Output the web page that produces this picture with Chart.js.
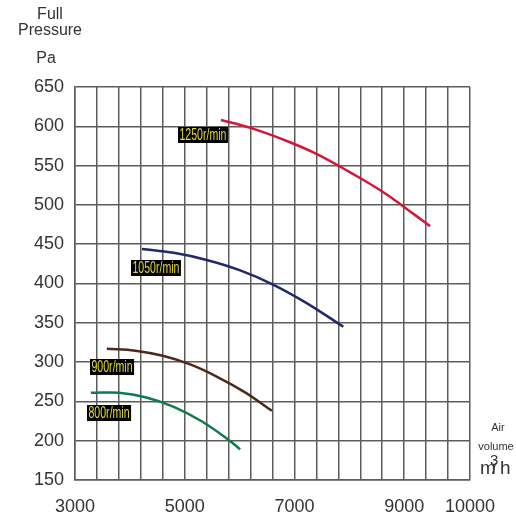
<!DOCTYPE html>
<html>
<head>
<meta charset="utf-8">
<script src="https://cdn.jsdelivr.net/npm/chart.js@4/dist/chart.umd.min.js"></script>
<style>
  html, body { margin: 0; padding: 0; background: #fff; }
  #wrap { width: 516px; height: 517px; position: relative; }
</style>
</head>
<body>
<div id="wrap"><canvas id="c" width="516" height="517"></canvas></div>
<script>
// ---- data (air volume m3/h, full pressure Pa) ----
const speedLabels = ['1250r/min', '1050r/min', '900r/min', '800r/min'];
const flow1250 = [5660, 6200, 6800, 7400, 8000, 8600, 9200, 9470];
const pres1250 = [608, 598, 583, 565, 542, 517, 487, 473];
const flow1050 = [4220, 4800, 5400, 6000, 6600, 7200, 7890];
const pres1050 = [444, 439, 430, 417, 399, 376, 345];
const flow900 = [3580, 4100, 4600, 5100, 5600, 6100, 6590];
const pres900 = [317, 314.5, 308, 297, 281, 261.5, 238];
const flow800 = [3290, 3800, 4300, 4800, 5300, 5800, 6010];
const pres800 = [261, 261, 255, 243, 225, 201, 189];
const yTicks = [150, 200, 250, 300, 350, 400, 450, 500, 550, 600, 650];
const xTickLabels = ['3000', '5000', '7000', '9000', '10000'];
const xTickValues = [3000, 5000, 7000, 9000, 10200];

const pts = (xs, ys) => xs.map((x, i) => ({ x, y: ys[i] }));
const colors = ['#d2163a', '#1f2a6b', '#4b2a1c', '#0f7a4c'];
const seriesData = [pts(flow1250, pres1250), pts(flow1050, pres1050), pts(flow900, pres900), pts(flow800, pres800)];
// label box offsets relative to first point of each curve (pixels)
const labelOffsets = [[-43, 7], [-11, 11], [-17, 10], [-4, 12]];

const labelPlugin = {
  id: 'speedLabels',
  afterDatasetsDraw(chart) {
    const ctx = chart.ctx;
    chart.data.datasets.forEach((ds, i) => {
      const meta = chart.getDatasetMeta(i);
      const p0 = meta.data[0];
      const left = Math.round(p0.x + labelOffsets[i][0]);
      const top = Math.round(p0.y + labelOffsets[i][1]);
      ctx.save();
      ctx.font = '16px "Liberation Sans", Arial, sans-serif';
      const sx = 0.66;
      const w = ctx.measureText(ds.label).width * sx + 3;
      ctx.fillStyle = '#000';
      ctx.fillRect(left, top, w, 16);
      ctx.translate(left + 1.5, top + 8.5);
      ctx.scale(sx, 1);
      ctx.fillStyle = '#e2da3c';
      ctx.textBaseline = 'middle';
      ctx.fillText(ds.label, 0, 0);
      ctx.restore();
    });
  }
};

const textPlugin = {
  id: 'axisTexts',
  afterDraw(chart) {
    const ctx = chart.ctx;
    ctx.save();
    ctx.fillStyle = '#333';
    ctx.textAlign = 'center';
    ctx.textBaseline = 'middle';
    ctx.font = '16px "Liberation Sans", Arial, sans-serif';
    ctx.fillText('Full', 50, 15);
    ctx.fillText('Pressure', 50, 31);
    ctx.fillText('Pa', 46, 59);
    ctx.font = '11px "Liberation Sans", Arial, sans-serif';
    ctx.fillText('Air', 498, 428);
    ctx.fillText('volume', 496, 447);
    ctx.font = '19px "Liberation Sans", Arial, sans-serif';
    ctx.textAlign = 'left';
    ctx.fillText('m', 480, 469);
    ctx.fillText('h', 500, 469);
    ctx.font = '15px "Liberation Sans", Arial, sans-serif';
    ctx.fillText('3', 490, 461);
    ctx.fillText('/', 492, 470);
    ctx.restore();
  }
};

new Chart(document.getElementById('c'), {
  type: 'line',
  data: {
    datasets: seriesData.map((d, i) => ({
      label: speedLabels[i],
      data: d,
      borderColor: colors[i],
      borderWidth: 2.5,
      pointRadius: 0,
      fill: false,
      tension: 0.4
    }))
  },
  options: {
    responsive: false,
    animation: false,
    devicePixelRatio: 1,
    layout: { padding: { top: 87, right: 46, left: 0, bottom: 0 } },
    plugins: { legend: { display: false }, tooltip: { enabled: false } },
    scales: {
      x: {
        type: 'linear',
        min: 3000, max: 10200,
        afterBuildTicks(scale) {
          const t = [];
          for (let v = 3000; v <= 10200; v += 400) t.push({ value: v });
          scale.ticks = t;
        },
        afterFit(scale) { scale.height = 37; },
        grid: { color: '#5c5c5c', lineWidth: 1.5, drawTicks: false },
        border: { color: '#5c5c5c', width: 1.5 },
        ticks: {
          autoSkip: false,
          maxRotation: 0,
          padding: 16,
          color: '#333',
          font: { size: 18, family: '"Liberation Sans", Arial, sans-serif' },
          callback(v) {
            const k = xTickValues.indexOf(v);
            return k >= 0 ? xTickLabels[k] : '';
          }
        }
      },
      y: {
        type: 'linear',
        min: 150, max: 650,
        afterBuildTicks(scale) { scale.ticks = yTicks.map(v => ({ value: v })); },
        afterFit(scale) { scale.width = 75; },
        grid: { color: '#5c5c5c', lineWidth: 1.5, drawTicks: false },
        border: { color: '#5c5c5c', width: 1.5 },
        ticks: {
          padding: 11,
          color: '#333',
          font: { size: 18, family: '"Liberation Sans", Arial, sans-serif' }
        }
      }
    }
  },
  plugins: [labelPlugin, textPlugin]
});
</script>
</body>
</html>
